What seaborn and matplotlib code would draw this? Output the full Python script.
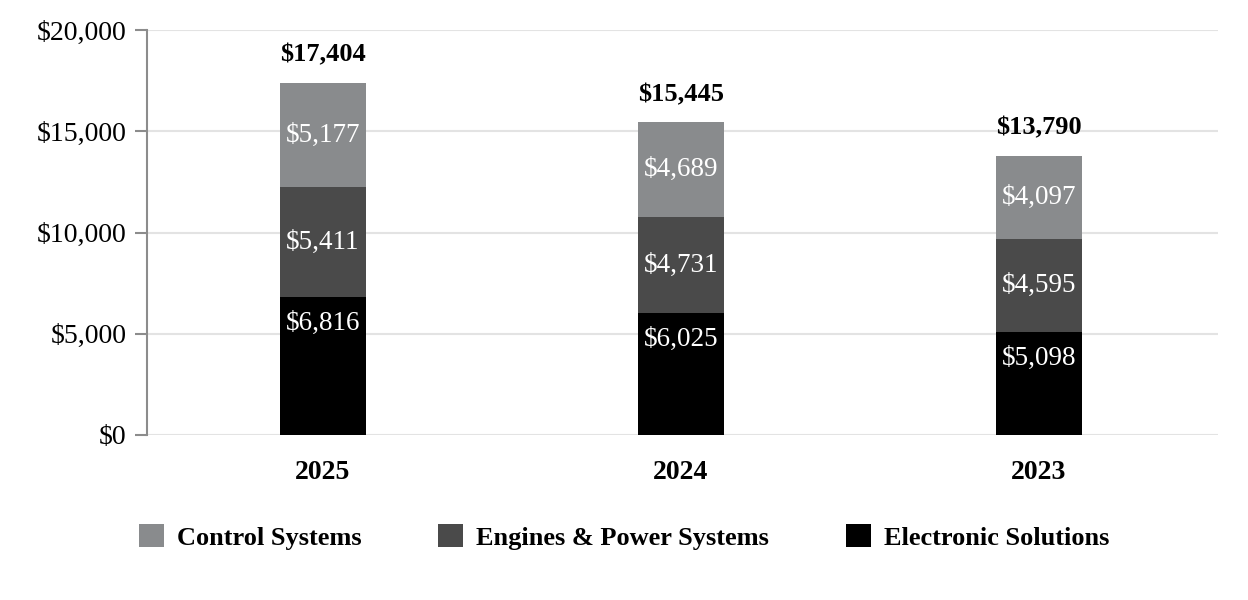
import numpy as np
import pandas as pd
import matplotlib
matplotlib.use('Agg')
import matplotlib.pyplot as plt
import seaborn as sns
from matplotlib.patches import Patch

# ---- data ----
years = ['2025', '2024', '2023']
electronic = [6816, 6025, 5098]
engines = [5411, 4731, 4595]
control = [5177, 4689, 4097]
totals = [17404, 15445, 13790]

segments = ['Control Systems', 'Engines & Power Systems', 'Electronic Solutions']
colors = {'Control Systems': '#898b8d',
          'Engines & Power Systems': '#4a4a4a',
          'Electronic Solutions': '#000000'}

sns.set_style('white')
plt.rcParams['font.family'] = ['Liberation Serif', 'DejaVu Serif']
plt.rcParams['text.color'] = 'black'

df = pd.DataFrame({'year': years, 'elec': electronic, 'eng': engines, 'ctrl': control})
df['top_eng'] = df['elec'] + df['eng']
df['top_ctrl'] = df['top_eng'] + df['ctrl']

fig = plt.figure(figsize=(12.48, 6), dpi=100)
ax = fig.add_axes([0.118, 0.275, 0.858, 0.675])

# stacked bars: draw cumulative heights, tallest first
bw = 0.24
for col, seg in [('top_ctrl', 'Control Systems'), ('top_eng', 'Engines & Power Systems'),
                 ('elec', 'Electronic Solutions')]:
    sns.barplot(data=df, x='year', y=col, order=years, color=colors[seg],
                width=bw, saturation=1, linewidth=0, ax=ax, zorder=3)

ax.set_xlim(-0.49, 2.5)
ax.set_ylim(0, 20000)
ax.set_yticks(np.arange(0, 20001, 5000))
ax.set_yticklabels([f'${v:,.0f}' for v in np.arange(0, 20001, 5000)], fontsize=20, color='black')
ax.set_xticks(range(len(years)))
ax.set_xticklabels(years, fontsize=20, fontweight='bold', color='black')
ax.set_xlabel('')
ax.set_ylabel('')
ax.yaxis.grid(True, color='#e3e3e3', linewidth=1.5, zorder=0)
ax.set_axisbelow(True)

for s in ['top', 'right', 'bottom']:
    ax.spines[s].set_visible(False)
ax.spines['left'].set_color('#8c8c8c')
ax.spines['left'].set_linewidth(1.5)
ax.tick_params(axis='y', length=9, width=1.5, color='#8c8c8c', left=True, pad=6)
ax.tick_params(axis='x', length=0, pad=18)

# value labels
for i in range(len(years)):
    ax.text(i, df['top_eng'][i] + control[i] / 2, f'${control[i]:,}', ha='center', va='center',
            color='white', fontsize=19.5, zorder=5)
    ax.text(i, df['elec'][i] + engines[i] / 2, f'${engines[i]:,}', ha='center', va='center',
            color='white', fontsize=19.5, zorder=5)
    ax.annotate(f'${electronic[i]:,}', xy=(i, electronic[i]), xytext=(0, -19),
                textcoords='offset points', ha='center', va='center',
                color='white', fontsize=19.5, zorder=5)
    ax.annotate(f'${totals[i]:,}', xy=(i, totals[i]), xytext=(0, 20),
                textcoords='offset points', ha='center', va='center',
                fontsize=19, fontweight='bold', color='black', zorder=5)

handles = [Patch(facecolor=colors[s], edgecolor='none', label=s) for s in segments]
fig.legend(handles=handles, loc='center', bbox_to_anchor=(0.5, 0.105), ncol=3, frameon=False,
           prop={'size': 19, 'weight': 'bold'}, handlelength=0.95, handleheight=0.95,
           handletextpad=0.5, columnspacing=2.9, labelcolor='black')

fig.savefig('out.png', dpi=100)
